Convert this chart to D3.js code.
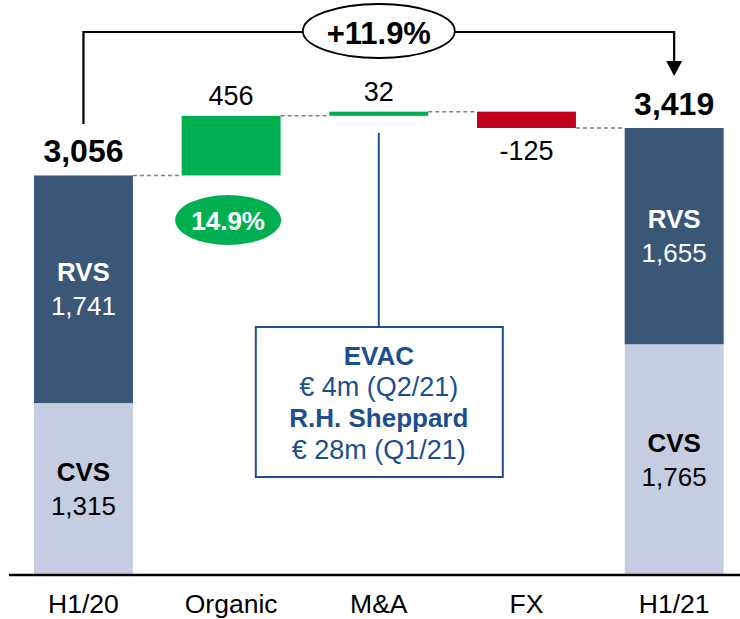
<!DOCTYPE html>
<html>
<head>
<meta charset="utf-8">
<script src="https://cdn.jsdelivr.net/npm/d3@7"></script>
<style>
  html, body { margin: 0; padding: 0; background: #fff; }
  svg { display: block; font-family: Arial, "Liberation Sans", sans-serif; }
</style>
</head>
<body>
<svg id="chart" width="740" height="619"></svg>
<script>
// ---- data ----
const categories = ["H1/20", "Organic", "M&A", "FX", "H1/21"];
const totalLabels = ["H1/20", "H1/21"];
const totalValues = [3056, 3419];
const rvsValues = [1741, 1655];
const cvsValues = [1315, 1765];
const deltaCats = ["Organic", "M&A", "FX"];
const deltaValues = [456, 32, -125];
const segmentNames = ["RVS", "CVS"];
const totalGrowth = "+11.9%";
const organicGrowth = "14.9%";
const boxLines = [
  { text: "EVAC", bold: true },
  { text: "€ 4m (Q2/21)", bold: false },
  { text: "R.H. Sheppard", bold: true },
  { text: "€ 28m (Q1/21)", bold: false }
];

// ---- setup ----
const svg = d3.select("#chart");
const W = 740, H = 619;
const baseY = 575;
const fmt = d3.format(",");

const x = d3.scaleBand().domain(categories).range([9.6, 748])
  .paddingInner(0.33).paddingOuter(0.165);
const y = d3.scaleLinear().domain([0, 3419]).range([baseY, 128]);

const colRVS = "#3a5778", colCVS = "#c5cee0", colUp = "#00b050", colDown = "#c00020";
const navy = "#1c4f8c";

// ---- totals (stacked) ----
totalLabels.forEach((cat, i) => {
  const cvs = cvsValues[i], rvs = rvsValues[i], tot = totalValues[i];
  const g = svg.append("g");
  const x0 = x(cat), bw = x.bandwidth(), cx = x0 + bw / 2;
  g.append("rect").attr("x", x0).attr("width", bw)
    .attr("y", y(cvs)).attr("height", y(0) - y(cvs)).attr("fill", colCVS);
  g.append("rect").attr("x", x0).attr("width", bw)
    .attr("y", y(tot)).attr("height", y(cvs) - y(tot)).attr("fill", colRVS);
  const segs = [
    { name: segmentNames[0], v: rvs, mid: (y(tot) + y(cvs)) / 2, col: "#fff" },
    { name: segmentNames[1], v: cvs, mid: (y(cvs) + y(0)) / 2, col: "#000" }
  ];
  segs.forEach(s => {
    g.append("text").attr("x", cx).attr("y", s.mid - 8).attr("text-anchor", "middle")
      .attr("font-size", 26).attr("font-weight", "bold").attr("fill", s.col).text(s.name);
    g.append("text").attr("x", cx).attr("y", s.mid + 26).attr("text-anchor", "middle")
      .attr("font-size", 26).attr("fill", s.col).text(fmt(s.v));
  });
  g.append("text").attr("x", cx).attr("y", y(tot) - 13).attr("text-anchor", "middle")
    .attr("font-size", 32).attr("font-weight", "bold").attr("fill", "#000").text(fmt(tot));
});

// ---- deltas ----
let run = totalValues[0];
let prevRight = x(categories[0]) + x.bandwidth();
deltaCats.forEach((cat, i) => {
  const d = deltaValues[i];
  const start = run, end = run + d;
  const x0 = x(cat), bw = x.bandwidth(), cx = x0 + bw / 2;
  svg.append("line").attr("x1", prevRight).attr("x2", x0)
    .attr("y1", y(start)).attr("y2", y(start))
    .attr("stroke", "#7f7f7f").attr("stroke-width", 1.5).attr("stroke-dasharray", "4,3");
  svg.append("rect").attr("x", x0).attr("width", bw)
    .attr("y", y(Math.max(start, end))).attr("height", Math.abs(y(start) - y(end)))
    .attr("fill", d >= 0 ? colUp : colDown);
  const ly = d >= 0 ? y(end) - 11 : y(end) + 32;
  svg.append("text").attr("x", cx).attr("y", ly).attr("text-anchor", "middle")
    .attr("font-size", 27).attr("fill", "#000").text(String(d));
  run = end;
  prevRight = x0 + bw;
});
svg.append("line").attr("x1", prevRight).attr("x2", x(categories[4]))
  .attr("y1", y(run)).attr("y2", y(run))
  .attr("stroke", "#7f7f7f").attr("stroke-width", 1.5).attr("stroke-dasharray", "4,3");

// ---- axis ----
svg.append("line").attr("x1", 9).attr("x2", W).attr("y1", baseY).attr("y2", baseY)
  .attr("stroke", "#000").attr("stroke-width", 2.5);
const axis = svg.append("g").attr("transform", `translate(0,${baseY})`)
  .call(d3.axisBottom(x).tickSize(0).tickPadding(20));
axis.select(".domain").remove();
axis.selectAll("text").attr("font-size", 26.5).attr("font-family", "Arial, 'Liberation Sans', sans-serif")
  .attr("fill", "#000").attr("dy", "0.71em").attr("y", 19);

// ---- overall growth bracket ----
const lx = x(categories[0]) + x.bandwidth() / 2;
const rx = x(categories[4]) + x.bandwidth() / 2;
const by = 32;
const ecx = (lx + rx) / 2, erx = 76, ery = 27;
svg.append("path")
  .attr("d", `M${lx},124 V${by} H${ecx - erx}`)
  .attr("fill", "none").attr("stroke", "#000").attr("stroke-width", 2.2);
svg.append("path")
  .attr("d", `M${ecx + erx},${by} H${rx} V64`)
  .attr("fill", "none").attr("stroke", "#000").attr("stroke-width", 2.2);
svg.append("path")
  .attr("d", `M${rx - 8},61 L${rx + 8},61 L${rx},76 Z`).attr("fill", "#000");
svg.append("ellipse").attr("cx", ecx).attr("cy", by - 1).attr("rx", erx).attr("ry", ery)
  .attr("fill", "#fff").attr("stroke", "#000").attr("stroke-width", 1.8);
svg.append("text").attr("x", ecx).attr("y", by + 12).attr("text-anchor", "middle")
  .attr("font-size", 31).attr("font-weight", "bold").text(totalGrowth);

// ---- organic growth bubble ----
const ocx = x("Organic") + x.bandwidth() / 2 - 3;
svg.append("ellipse").attr("cx", ocx).attr("cy", 220).attr("rx", 53).attr("ry", 25)
  .attr("fill", colUp);
svg.append("text").attr("x", ocx).attr("y", 230).attr("text-anchor", "middle")
  .attr("font-size", 26).attr("font-weight", "bold").attr("fill", "#fff").text(organicGrowth);

// ---- M&A callout box ----
const mcx = x("M&A") + x.bandwidth() / 2;
svg.append("line").attr("x1", mcx).attr("x2", mcx).attr("y1", 133).attr("y2", 327)
  .attr("stroke", navy).attr("stroke-width", 2);
svg.append("rect").attr("x", mcx - 123).attr("y", 327).attr("width", 247).attr("height", 150)
  .attr("fill", "#fff").attr("stroke", navy).attr("stroke-width", 2);
boxLines.forEach((l, i) => {
  svg.append("text").attr("x", mcx).attr("y", 365 + i * 31.2).attr("text-anchor", "middle")
    .attr("font-size", l.bold ? 26 : 27).attr("font-weight", l.bold ? "bold" : "normal")
    .attr("fill", navy).text(l.text);
});
</script>
</body>
</html>
